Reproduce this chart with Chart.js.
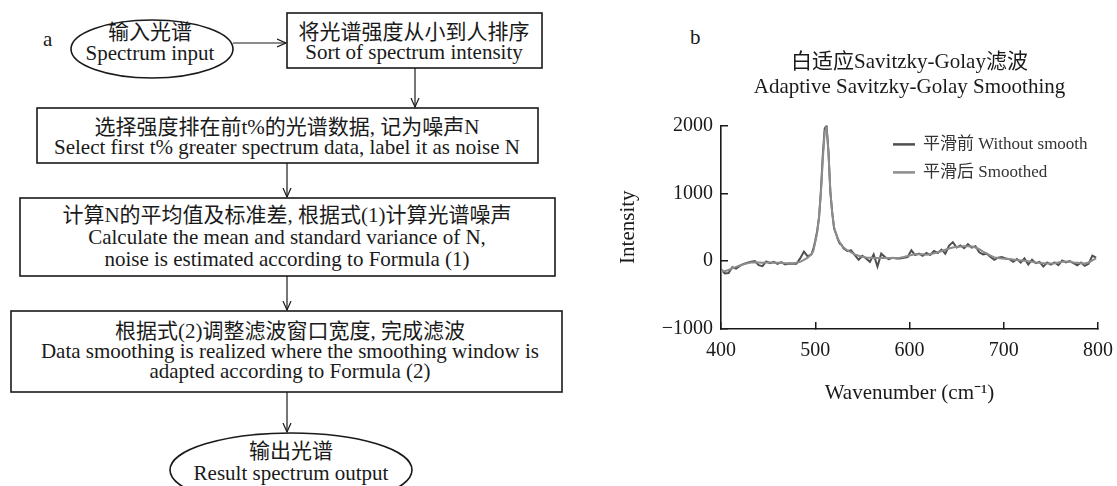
<!DOCTYPE html>
<html lang="zh">
<head>
  <meta charset="UTF-8">
  <title>自适应Savitzky-Golay滤波</title>
  <script src="https://cdn.jsdelivr.net/npm/chart.js"></script>
  <style>
    body {
      margin: 0;
      background: #fff;
      width: 1117px;
      height: 486px;
      overflow: hidden;
      position: relative;
      font-family: 'Liberation Serif', 'Noto Sans CJK SC', serif;
      color: #1a1a1a;
    }
    #flow {
      position: absolute;
      left: 0;
      top: 0;
    }
    #flow text {
      font-size: 21px;
      fill: #1a1a1a;
      text-anchor: middle;
      dominant-baseline: central;
    }
    .panel-tag {
      position: absolute;
      font-size: 21px;
      line-height: 1;
    }
    #chartBox {
      position: absolute;
      left: 600px;
      top: 0;
      width: 517px;
      height: 486px;
    }
  </style>
</head>
<body>

<svg id="flow" width="600" height="486">
  <defs>
    <marker id="arr" markerWidth="10" markerHeight="10" refX="9" refY="5" orient="auto" markerUnits="userSpaceOnUse">
      <path d="M0,1 L9,5 L0,9" fill="none" stroke="#1a1a1a" stroke-width="1.2"/>
    </marker>
  </defs>
  <g fill="none" stroke="#1a1a1a" stroke-width="1.6">
    <ellipse cx="152" cy="49" rx="81" ry="29"/>
    <rect x="287" y="13" width="255" height="55"/>
    <rect x="37" y="108" width="501" height="55"/>
    <rect x="20" y="198" width="535" height="78"/>
    <rect x="11" y="311" width="551" height="81"/>
    <ellipse cx="291" cy="470" rx="121" ry="37"/>
  </g>
  <g stroke="#1a1a1a" stroke-width="1.2" marker-end="url(#arr)">
    <line x1="233" y1="43" x2="286" y2="43"/>
    <line x1="415" y1="68" x2="415" y2="107"/>
    <line x1="287" y1="163" x2="287" y2="197"/>
    <line x1="287" y1="276" x2="287" y2="310"/>
    <line x1="287" y1="392" x2="287" y2="432"/>
  </g>
  <text x="43" y="39" style="text-anchor:start">a</text>
  <text x="150" y="32">输入光谱</text>
  <text x="150" y="53">Spectrum input</text>
  <text x="414" y="32">将光谱强度从小到人排序</text>
  <text x="414" y="52">Sort of spectrum intensity</text>
  <text x="287" y="127">选择强度排在前t%的光谱数据, 记为噪声N</text>
  <text x="287" y="147">Select first t% greater spectrum data, label it as noise N</text>
  <text x="287" y="215">计算N的平均值及标准差, 根据式(1)计算光谱噪声</text>
  <text x="287" y="237">Calculate the mean and standard variance of N,</text>
  <text x="287" y="259">noise is estimated according to Formula (1)</text>
  <text x="290" y="331">根据式(2)调整滤波窗口宽度, 完成滤波</text>
  <text x="290" y="351">Data smoothing is realized where the smoothing window is</text>
  <text x="290" y="371">adapted according to Formula (2)</text>
  <text x="291" y="451">输出光谱</text>
  <text x="291" y="473">Result spectrum output</text>
</svg>

<div class="panel-tag" style="left:690px; top:27px;">b</div>

<div id="chartBox"><canvas id="chart"></canvas></div>

<script>
// wavenumber (cm-1), finer steps around the 511 peak
const wavenumber = [400,404,408,412,416,420,424,428,432,436,440,444,448,452,456,460,464,468,472,476,480,484,488,492,496,
  498,500,502,504,506,508,510,512,514,516,518,520,522,524,526,528,530,
  534,538,542,546,550,554,558,562,566,570,574,578,582,586,590,594,598,602,606,610,614,618,622,626,630,634,638,642,646,650,
  654,658,662,666,670,674,678,682,686,690,694,698,702,706,710,714,718,722,726,730,734,738,742,746,750,754,758,762,766,770,
  774,778,782,786,790,794,798];

const rawIntensity = [-120,-180,-175,-90,-110,-70,-40,-25,-10,0,-60,-75,-5,-30,-10,-40,-15,-50,-35,-40,-40,40,140,70,100,
  180,300,440,640,1040,1560,1950,2000,1620,1020,720,480,410,320,260,240,190,
  150,160,90,20,80,40,-10,100,-80,110,60,30,50,40,40,50,60,160,90,110,80,120,90,150,120,170,110,230,280,200,
  230,190,250,200,220,130,100,110,60,20,50,60,40,30,-10,30,-20,40,-50,20,-30,-10,-80,-20,-50,-20,-60,10,-20,0,
  -30,-60,-20,-70,-40,80,50];

const smoothIntensity = [-140,-150,-130,-105,-85,-65,-45,-30,-20,-15,-20,-25,-20,-20,-25,-25,-25,-30,-30,-30,-25,-10,20,50,100,
  150,280,420,650,1000,1500,1900,1980,1600,1050,700,500,400,330,280,230,200,
  160,130,100,80,65,55,50,45,45,45,45,45,45,45,50,60,75,90,100,100,100,95,100,115,130,150,170,185,200,210,
  215,220,220,215,200,175,140,110,80,55,45,40,35,30,25,15,10,5,0,-10,-20,-25,-30,-35,-35,-30,-20,-10,-5,-10,
  -20,-25,-30,-35,-20,10,40];

const seriesLabels = ['平滑前 Without smooth', '平滑后 Smoothed'];
const titleLines = ['白适应Savitzky-Golay滤波', 'Adaptive Savitzky-Golay Smoothing'];

const FAMILY = "'Liberation Serif', 'Noto Sans CJK SC', serif";
Chart.defaults.font.family = FAMILY;
Chart.defaults.color = '#1a1a1a';

function toPoints(ys) {
  return wavenumber.map((x, i) => ({ x: x, y: ys[i] }));
}

function fmt(v) {
  return String(v).replace('-', '\u2212');
}

// legend sits inside the plot, upper right
const insideLegend = {
  id: 'insideLegend',
  afterDraw(chart) {
    const ctx = chart.ctx;
    const area = chart.chartArea;
    ctx.save();
    ctx.font = '17px ' + FAMILY;
    ctx.textBaseline = 'middle';
    chart.data.datasets.forEach((ds, i) => {
      const y = area.top + 19 + i * 28;
      const x = area.right - 205;
      ctx.strokeStyle = ds.borderColor;
      ctx.lineWidth = 2.5;
      ctx.beginPath();
      ctx.moveTo(x, y);
      ctx.lineTo(x + 22, y);
      ctx.stroke();
      ctx.fillStyle = '#333';
      ctx.fillText(ds.label, x + 30, y);
    });
    ctx.restore();
  }
};

new Chart(document.getElementById('chart'), {
  type: 'line',
  data: {
    datasets: [
      { label: seriesLabels[0], data: toPoints(rawIntensity), borderColor: '#4f4f4f', borderWidth: 2, order: 1 },
      { label: seriesLabels[1], data: toPoints(smoothIntensity), borderColor: '#8c8c8c', borderWidth: 2, order: 0 }
    ]
  },
  options: {
    responsive: true,
    maintainAspectRatio: false,
    animation: false,
    elements: { point: { radius: 0 }, line: { tension: 0 } },
    layout: { padding: { left: 0, right: 19, top: 0, bottom: 0 } },
    plugins: {
      legend: { display: false },
      tooltip: { enabled: false },
      title: {
        display: true,
        fullSize: false,
        text: titleLines,
        color: '#1a1a1a',
        font: { size: 21, weight: 'normal', lineHeight: 1.2 },
        padding: { top: 50, bottom: 25 }
      }
    },
    scales: {
      x: {
        type: 'linear',
        min: 400,
        max: 800,
        afterFit: s => { s.height = 157; s.paddingLeft = 0; s.paddingRight = 0; },
        ticks: { stepSize: 100, padding: 17, maxRotation: 0, font: { size: 20 }, color: '#1a1a1a', callback: fmt },
        grid: { drawOnChartArea: false, drawTicks: true, tickLength: -7, color: '#1a1a1a', lineWidth: 1.5 },
        border: { color: '#1a1a1a', width: 1.6 },
        title: { display: true, text: 'Wavenumber (cm\u207B\u00B9)', font: { size: 21 }, color: '#1a1a1a', padding: { top: 0, bottom: 80 } }
      },
      y: {
        min: -1000,
        max: 2000,
        afterFit: s => { s.width = 121; s.paddingTop = 0; s.paddingBottom = 0; },
        ticks: { stepSize: 1000, padding: 15, font: { size: 20 }, color: '#1a1a1a', callback: fmt },
        grid: { drawOnChartArea: false, drawTicks: true, tickLength: -7, color: '#1a1a1a', lineWidth: 1.5 },
        border: { color: '#1a1a1a', width: 1.6 },
        title: { display: true, text: 'Intensity', font: { size: 21 }, color: '#1a1a1a', padding: { top: 16, bottom: 0 } }
      }
    }
  },
  plugins: [insideLegend]
});
</script>

</body>
</html>
